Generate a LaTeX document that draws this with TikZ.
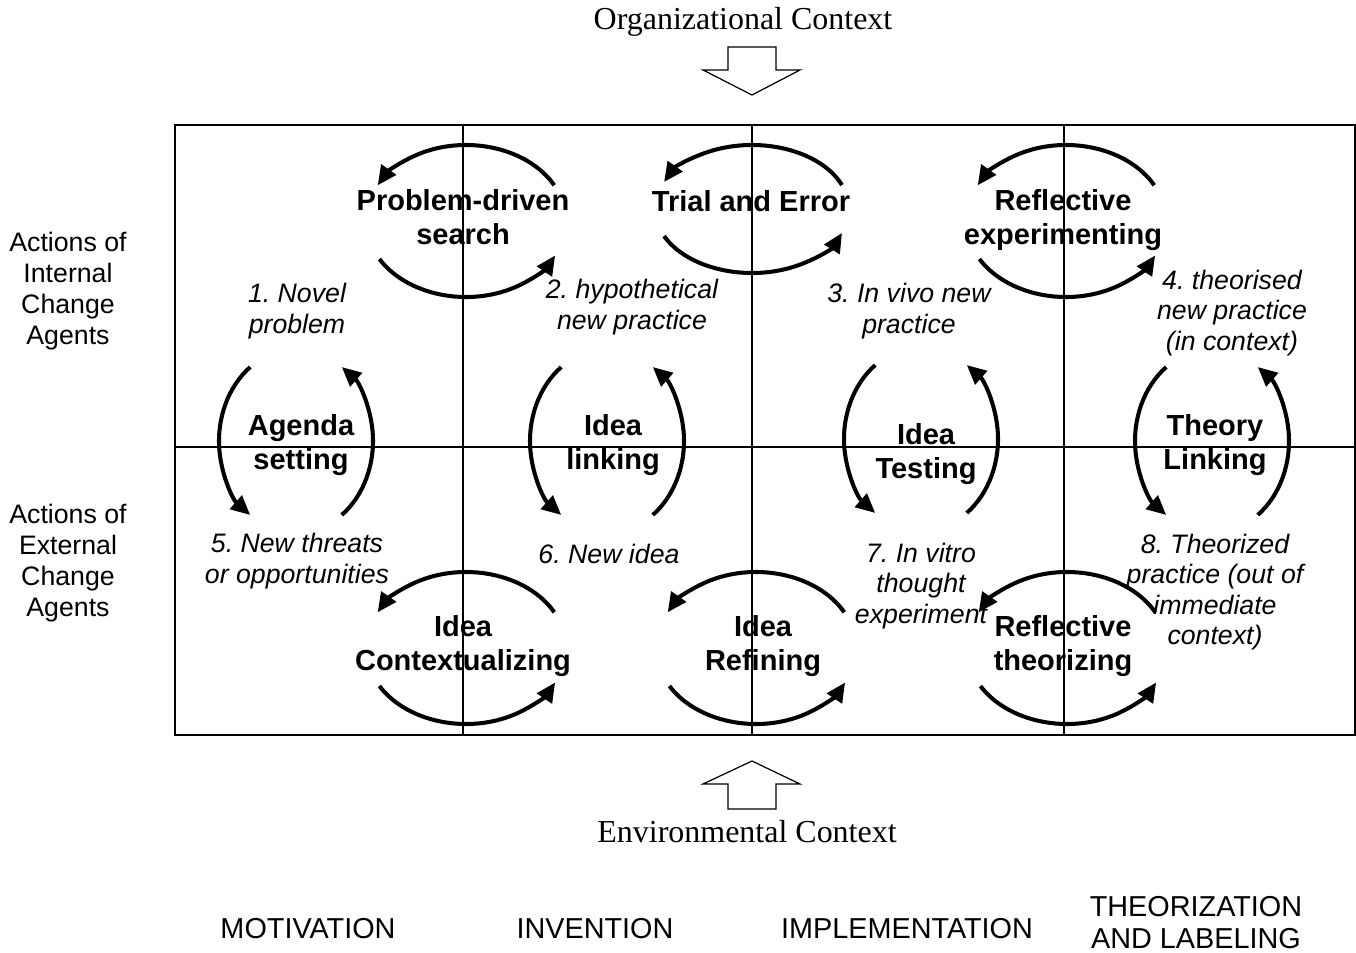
\documentclass[tikz,border=0pt]{standalone}
\usepackage{fontspec}
\setmainfont{Liberation Sans}
\newfontfamily\ctxfont{Liberation Serif}
\usetikzlibrary{arrows.meta}
\tikzset{
cycle/.style={line width=2.3pt, -{Triangle[length=11pt,width=10pt]}},
grid/.style={line width=1.1pt},
blockarrow/.style={draw, line width=0.7pt, line join=miter},
stage/.style={font=\bfseries\fontsize{16.5}{19.4}\selectfont, align=center, inner sep=0pt},
outcome/.style={font=\itshape\fontsize{15.2}{17.3}\selectfont, align=center, inner sep=0pt},
actor/.style={font=\fontsize{15.2}{17.6}\selectfont, align=center, inner sep=0pt},
phase/.style={font=\fontsize{16.4}{18.2}\selectfont, align=center, inner sep=0pt},
context/.style={font=\ctxfont\fontsize{18.2}{20}\selectfont, inner sep=0pt},
}
\frenchspacing

\begin{document}
\begin{tikzpicture}[x=0.02cm, y=-0.02cm]
    \useasboundingbox (0,0) rectangle (1356,953);

    %grid
    \draw[grid] (175,125) rectangle (1355,735);
    \draw[grid] (463,125)--(463,735);
    \draw[grid] (752,125)--(752,735);
    \draw[grid] (1064,125)--(1064,735);
    \draw[grid] (175,447)--(1355,447);

    %contexts
    \node[context] (org) at (743,22) {Organizational Context};
    \node[context] (env) at (747,832) {Environmental Context};
    \draw[blockarrow] (728,47)--(776,47)--(776,70)--(800,70)--(752,95)--(703,70)--(728,70)--cycle;
    \draw[blockarrow] (728,809)--(776,809)--(776,784)--(800,784)--(752,761)--(703,784)--(728,784)--cycle;

    %cycle centres
    \coordinate (pds) at (466,221);
    \coordinate (tae) at (752,209);
    \coordinate (rex) at (1066,221);
    \coordinate (ags) at (296,441);
    \coordinate (ili) at (607,441);
    \coordinate (ite) at (921,439);
    \coordinate (tli) at (1212,441);
    \coordinate (ico) at (466,648);
    \coordinate (ire) at (756,648);
    \coordinate (rth) at (1067,648);

    %stage labels
    \node[stage] (pdsl) at (463,217) {Problem-driven\\search};
    \node[stage] (tael) at (751,201) {Trial and Error};
    \node[stage] (rexl) at (1063,220) {Reflective\\experimenting};
    \node[stage] (agsl) at (301,445) {Agenda\\setting};
    \node[stage] (ilil) at (613,445) {Idea\\linking};
    \node[stage] (itel) at (926,454) {Idea\\Testing};
    \node[stage] (tlil) at (1215,445) {Theory\\Linking};
    \node[stage] (icol) at (463,646) {Idea\\Contextualizing};
    \node[stage] (irel) at (763,646) {Idea\\Refining};
    \node[stage] (rthl) at (1063,646) {Reflective\\theorizing};

    %outcome labels
    \node[outcome] (o1) at (297,311) {1. Novel\\problem};
    \node[outcome] (o2) at (632,307) {2. hypothetical\\new practice};
    \node[outcome] (o3) at (909,311) {3. In vivo new\\practice};
    \node[outcome] (o4) at (1232,313) {4. theorised\\new practice\\(in context)};
    \node[outcome] (o5) at (297,561) {5. New threats\\or opportunities};
    \node[outcome] (o6) at (609,554) {6. New idea};
    \node[outcome] (o7) at (921,586) {7. In vitro\\thought\\experiment};
    \node[outcome] (o8) at (1215,592) {8. Theorized\\practice (out of\\immediate\\context)};

    %actors and phases
    \node[actor] (int) at (68,291) {Actions of\\Internal\\Change\\Agents};
    \node[actor] (ext) at (68,563) {Actions of\\External\\Change\\Agents};
    \node[phase] (mot) at (308,929) {MOTIVATION};
    \node[phase] (inv) at (595,929) {INVENTION};
    \node[phase] (imp) at (907,929) {IMPLEMENTATION};
    \node[phase] (the) at (1196,923) {THEORIZATION\\AND LABELING};

    %horizontal cycles, top row
    \draw[cycle] (pds) ++(-28:100 and 76) arc[start angle=-28, end angle=-152, x radius=100, y radius=76];
    \draw[cycle] (pds) ++(150:100 and 76) arc[start angle=150, end angle=27, x radius=100, y radius=76];
    \draw[cycle] (tae) ++(-22:97 and 64) arc[start angle=-22, end angle=-155, x radius=97, y radius=64];
    \draw[cycle] (tae) ++(155:97 and 64) arc[start angle=155, end angle=22, x radius=97, y radius=64];
    \draw[cycle] (rex) ++(-28:100 and 76) arc[start angle=-28, end angle=-152, x radius=100, y radius=76];
    \draw[cycle] (rex) ++(150:100 and 76) arc[start angle=150, end angle=27, x radius=100, y radius=76];

    %vertical cycles, middle row
    \draw[cycle] (ags) ++(233.5:77 and 92) arc[start angle=233.5, end angle=126.5, x radius=77, y radius=92];
    \draw[cycle] (ags) ++(53.5:77 and 92) arc[start angle=53.5, end angle=-53.5, x radius=77, y radius=92];
    \draw[cycle] (ili) ++(233.5:77 and 92) arc[start angle=233.5, end angle=126.5, x radius=77, y radius=92];
    \draw[cycle] (ili) ++(53.5:77 and 92) arc[start angle=53.5, end angle=-53.5, x radius=77, y radius=92];
    \draw[cycle] (ite) ++(233.5:77 and 92) arc[start angle=233.5, end angle=126.5, x radius=77, y radius=92];
    \draw[cycle] (ite) ++(53.5:77 and 92) arc[start angle=53.5, end angle=-53.5, x radius=77, y radius=92];
    \draw[cycle] (tli) ++(233.5:77 and 92) arc[start angle=233.5, end angle=126.5, x radius=77, y radius=92];
    \draw[cycle] (tli) ++(53.5:77 and 92) arc[start angle=53.5, end angle=-53.5, x radius=77, y radius=92];

    %horizontal cycles, bottom row
    \draw[cycle] (ico) ++(-28:100 and 76) arc[start angle=-28, end angle=-152, x radius=100, y radius=76];
    \draw[cycle] (ico) ++(150:100 and 76) arc[start angle=150, end angle=27, x radius=100, y radius=76];
    \draw[cycle] (ire) ++(-28:100 and 76) arc[start angle=-28, end angle=-152, x radius=100, y radius=76];
    \draw[cycle] (ire) ++(150:100 and 76) arc[start angle=150, end angle=27, x radius=100, y radius=76];
    \draw[cycle] (rth) ++(-28:100 and 76) arc[start angle=-28, end angle=-152, x radius=100, y radius=76];
    \draw[cycle] (rth) ++(150:100 and 76) arc[start angle=150, end angle=27, x radius=100, y radius=76];

\end{tikzpicture}
\end{document}
